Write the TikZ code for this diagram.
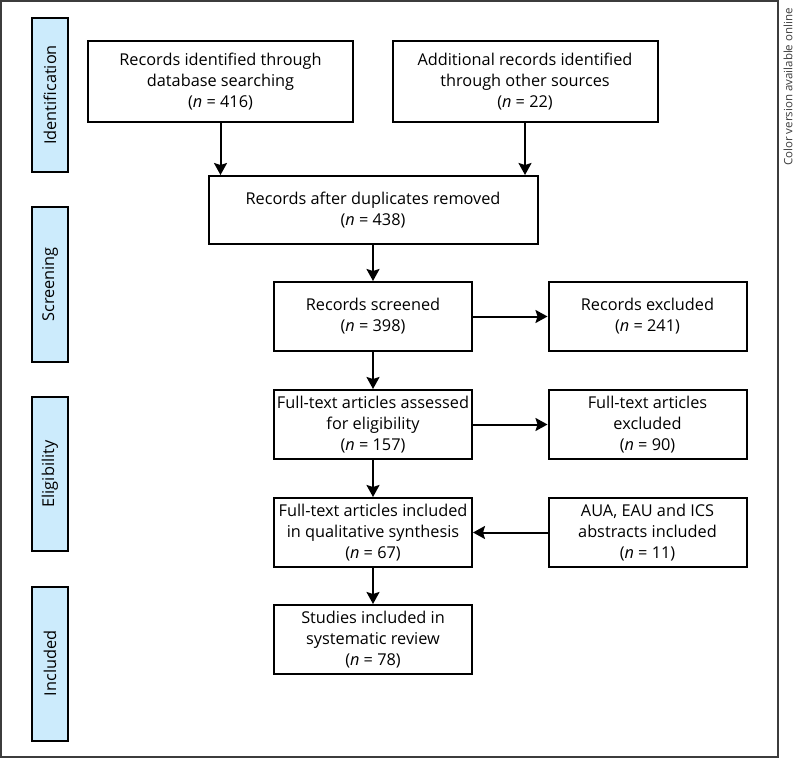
\documentclass[tikz,border=0pt]{standalone}
\usepackage{fontspec}
\setmainfont{Open Sans}
\usetikzlibrary{arrows.meta}
\definecolor{stageblue}{RGB}{204,235,252}
\definecolor{framegrey}{RGB}{60,60,60}
\newcommand{\flowfont}{\fontsize{16.3}{21}\selectfont}
\tikzset{
  box/.style={draw=black,line width=2pt,fill=white,align=center,inner sep=0pt,font=\flowfont},
  widebox/.style={box,minimum width=265pt,minimum height=81pt},
  stepbox/.style={box,minimum width=198pt,minimum height=69pt},
  stagebar/.style={draw=black,line width=2pt,fill=stageblue,rotate=90,minimum width=154pt,minimum height=36pt,inner sep=0pt,font=\flowfont},
  flow/.style={line width=2pt,-{Stealth[length=12pt,width=13pt,inset=2pt]}}
}

\begin{document}
\begin{tikzpicture}[x=1pt,y=-1pt]
      \useasboundingbox (0,0) rectangle (794,759);
      \draw[framegrey,line width=1.5pt] (1,1) rectangle (778,757);
      \node[rotate=90,text=framegrey,inner sep=0pt,font=\fontsize{11.5}{13}\selectfont] (note) at (788,87) {Color version available online};
      % stages
      \foreach \name/\y in {Identification/95,Screening/284.5,Eligibility/474,Included/663.5}
        \node[stagebar] (\name) at (50,\y) {\name};
      % boxes
      \node[widebox] (db) at (220.5,81.5) {Records identified through\\database searching\\(\textit{n}~=~416)};
      \node[widebox] (other) at (525,81.5) {Additional records identified\\through other sources\\(\textit{n}~=~22)};
      \node[box,minimum width=329pt,minimum height=68pt] (dup) at (373,210) {Records after duplicates removed\\(\textit{n}~=~438)};
      \node[stepbox] (screened) at (373,316.5) {Records screened\\(\textit{n}~=~398)};
      \node[stepbox] (excluded) at (647.5,316.5) {Records excluded\\(\textit{n}~=~241)};
      \node[stepbox] (assessed) at (373,424.5) {Full-text articles assessed\\for eligibility\\(\textit{n}~=~157)};
      \node[stepbox] (ftexcluded) at (647.5,424.5) {Full-text articles\\excluded\\(\textit{n}~=~90)};
      \node[stepbox] (qualitative) at (373,532.5) {Full-text articles included\\in qualitative synthesis\\(\textit{n}~=~67)};
      \node[stepbox] (abstracts) at (647.5,532.5) {AUA, EAU and ICS\\abstracts included\\(\textit{n}~=~11)};
      \node[stepbox] (review) at (373,639.5) {Studies included in\\systematic review\\(\textit{n}~=~78)};
      % arrows
      \draw[flow] (db) -- (db |- dup.north);
      \draw[flow] (other) -- (other |- dup.north);
      \draw[flow] (dup) -- (screened);
      \draw[flow] (screened) -- (excluded);
      \draw[flow] (screened) -- (assessed);
      \draw[flow] (assessed) -- (ftexcluded);
      \draw[flow] (assessed) -- (qualitative);
      \draw[flow] (abstracts) -- (qualitative);
      \draw[flow] (qualitative) -- (review);
\end{tikzpicture}
\end{document}
